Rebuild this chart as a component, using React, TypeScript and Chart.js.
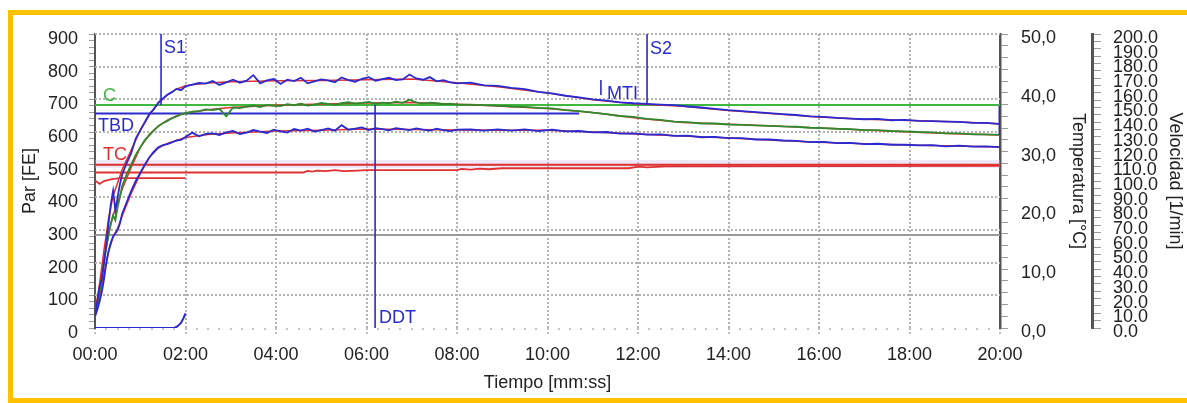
import { useEffect, useRef } from 'react';
import { Chart, registerables } from 'chart.js';

Chart.register(...registerables);

// ---------- data (time in minutes, torque in FE) ----------
const timeMin = [
  0, 0.05, 0.1, 0.15, 0.2, 0.25, 0.3, 0.35, 0.4, 0.45, 0.5, 0.55, 0.6, 0.7, 0.8, 0.9, 1.0, 1.1, 1.2, 1.3, 1.4, 1.5, 1.6, 1.7, 1.8, 1.9, 2.0,
  2.15, 2.3, 2.45, 2.6, 2.75, 2.9, 3.05, 3.2, 3.35, 3.5, 3.65, 3.8, 3.95, 4.1, 4.25, 4.4, 4.55, 4.7, 4.85, 5.0,
  5.15, 5.3, 5.45, 5.6, 5.75, 5.9, 6.05, 6.2, 6.35, 6.5, 6.65, 6.8, 6.95, 7.1, 7.25, 7.4, 7.55, 7.7, 7.85, 8.0,
  8.3, 8.6, 8.9, 9.2, 9.5, 9.8, 10.1, 10.4, 10.7, 11.0, 11.3, 11.6, 11.9, 12.2, 12.5, 12.8, 13.1, 13.4, 13.7, 14.0,
  14.3, 14.6, 14.9, 15.2, 15.5, 15.8, 16.1, 16.4, 16.7, 17.0, 17.3, 17.6, 17.9, 18.2, 18.5, 18.8, 19.1, 19.4, 19.7, 20.0,
];

const upperTorque = [
  40, 80, 125, 150, 200, 260, 320, 380, 420, 360, 400, 440, 470, 505, 535, 580, 605, 630, 655, 670, 690, 703, 714, 722, 732, 728, 740,
  745, 750, 748, 756, 744, 752, 760, 751, 757, 774, 749, 758, 762, 747, 760, 756, 766, 749, 755, 761,
  758, 752, 767, 759, 754, 763, 768, 757, 762, 766, 759, 761, 776, 764, 760, 768, 755, 759, 752, 749,
  751, 743, 741, 735, 731, 723, 718, 711, 706, 700, 696, 691, 688, 686, 684, 682, 678, 675, 671, 667,
  664, 661, 658, 655, 652, 648, 646, 643, 641, 639, 640, 636, 637, 634, 633, 632, 631, 628, 628, 624,
];

const middleTorque = [
  45, 70, 110, 150, 200, 245, 285, 320, 345, 330, 370, 400, 435, 470, 500, 530, 553, 575, 590, 605, 618, 627, 634, 642, 648, 654, 658,
  662, 664, 669, 667, 671, 648, 675, 673, 678, 681, 676, 683, 680, 679, 685, 682, 687, 681, 684, 689,
  686, 683, 688, 691, 687, 689, 692, 686, 690, 688, 693, 689, 699, 691, 687, 690, 688, 685, 687, 684,
  684, 682, 681, 678, 677, 674, 672, 667, 664, 659, 655, 649, 646, 640, 637, 632, 630, 626, 626, 623,
  622, 620, 619, 617, 616, 613, 612, 610, 609, 606, 606, 603, 602, 600, 599, 596, 596, 593, 593, 591,
];

const lowerTorque = [
  35, 55, 80, 110, 150, 200, 235, 262, 280, 290, 300, 320, 350, 385, 420, 450, 475, 500, 522, 540, 553, 560, 563, 568, 574, 576, 585,
  598, 587, 594, 596, 591, 599, 603, 594, 598, 606, 601, 597, 607, 602, 598, 609, 604, 610, 601, 606,
  611, 604, 621, 607, 610, 614, 606, 612, 609, 605, 612, 609, 606, 611, 607, 604, 610, 606, 603, 607,
  608, 604, 608, 604, 608, 603, 607, 602, 603, 599, 600, 595, 596, 592, 593, 588, 589, 584, 585, 581,
  581, 577, 577, 574, 573, 569, 570, 566, 567, 563, 564, 561, 561, 559, 560, 556, 558, 555, 556, 554,
];

// reference (red) curves lying under the measured ones
const refTime = [0, 0.1, 0.2, 0.3, 0.4, 0.5, 0.6, 0.8, 1.0, 1.2, 1.4, 1.6, 1.8, 2.0, 2.5, 3, 4, 5, 6, 7, 8, 9, 10, 11, 12, 13, 14, 15, 16, 17, 18, 19, 20];
const refUpper = [45, 135, 240, 335, 405, 445, 485, 545, 605, 652, 688, 714, 731, 742, 750, 754, 757, 758, 760, 762, 751, 737, 719, 699, 686, 679, 666, 656, 646, 639, 635, 631, 625];
const refMiddle = [45, 120, 210, 290, 345, 385, 425, 492, 552, 592, 618, 636, 649, 658, 668, 675, 682, 686, 689, 690, 685, 679, 672, 660, 642, 629, 624, 618, 612, 606, 600, 595, 591];
const refLower = [35, 95, 165, 235, 278, 305, 343, 412, 472, 522, 551, 565, 574, 583, 592, 597, 603, 605, 609, 608, 606, 605, 605, 600, 594, 588, 582, 575, 569, 564, 560, 557, 554];

// temperature traces (red)
const tempTime = [0, 4.6, 4.7, 4.8, 4.9, 5.1, 5.3, 5.5, 5.8, 6.0, 8.0, 8.1, 8.3, 8.5, 8.7, 9.0, 11.8, 12.0, 12.2, 12.6, 20];
const tempValues = [476, 476, 481, 479, 482, 480, 483, 480, 482, 483, 483, 487, 485, 488, 486, 489, 489, 494, 492, 495, 496];
const tempLowTime = [0, 0.1, 0.2, 0.35, 0.5, 0.6, 2.0];
const tempLowValues = [452, 441, 450, 455, 458, 459, 459];

// speed (1/min)
const speedTime = [0, 1.75, 1.82, 1.9, 1.96, 2.0];
const speedValues = [0, 0, 1, 3.5, 7, 10];

// levels
const levelC = 683;
const levelTBD = 657;
const tbdEndTime = 10.7;
const levelTC = 500;
const bandLow = 490;
const bandHigh = 514;
const grayLevel = 285;

// vertical markers: [time, from, to]
const markerNames = ['S1', 'S2', 'DDT', 'MTI', 'END'];
const markerTime = [1.46, 12.2, 6.19, 11.18, 20];
const markerFrom = [683, 683, 0, 713, 680];
const markerTo = [900, 900, 683, 759, 591];

// text annotations in data coordinates
const noteText = ['S1', 'S2', 'MTI', 'DDT', 'C', 'TBD', 'TC'];
const noteTime = [1.525, 12.265, 11.315, 6.276, 0.177, 0.066, 0.177];
const noteValue = [856, 854, 715, 29, 709, 617, 530];

// ---------- styles ----------
const BLUE = '#2a2ad0';
const GREEN_LINE = '#40b840';
const GREEN_CURVE = '#2f8a2f';
const RED = '#e03030';
const GRID = '#b4b4b4';
const AXIS = '#555555';
const TEXT = '#222222';
const FONT = "'Liberation Sans', Arial, Helvetica, sans-serif";
const noteColor: Record<string, string> = { S1: BLUE, S2: BLUE, MTI: BLUE, DDT: BLUE, TBD: BLUE, C: GREEN_LINE, TC: RED };

const pts = (xs: number[], ys: number[]) => xs.map((x, i) => ({ x, y: ys[i] }));
const line = (data: any[], color: string, width: number, extra: any = {}) => ({
  data,
  borderColor: color,
  backgroundColor: color,
  borderWidth: width,
  pointRadius: 0,
  pointHoverRadius: 0,
  fill: false,
  tension: 0,
  ...extra,
});

const near = (v: number, step: number) => Math.abs(v / step - Math.round(v / step)) < 1e-6;

// horizontal dotted grid lines at every labelled torque tick
const hGridPlugin = {
  id: 'hGrid',
  beforeDatasetsDraw(chart: any) {
    const { ctx, chartArea, scales } = chart;
    const ys = scales.y;
    ctx.save();
    ctx.strokeStyle = GRID;
    ctx.lineWidth = 2;
    ctx.setLineDash([2, 2]);
    ys.ticks.forEach((t: any) => {
      if (!near(t.value, 100) || t.value <= 0) return;
      const py = Math.round(ys.getPixelForValue(t.value));
      ctx.beginPath();
      ctx.moveTo(chartArea.left, py);
      ctx.lineTo(chartArea.right, py);
      ctx.stroke();
    });
    ctx.restore();
  },
};

const notesPlugin = {
  id: 'rheoNotes',
  afterDatasetsDraw(chart: any) {
    const { ctx, scales } = chart;
    const xs = scales.x;
    const ys = scales.y;
    ctx.save();
    ctx.font = `18px ${FONT}`;
    ctx.textBaseline = 'middle';
    ctx.textAlign = 'left';
    noteText.forEach((t, i) => {
      ctx.fillStyle = noteColor[t] || BLUE;
      ctx.fillText(t, xs.getPixelForValue(noteTime[i]), ys.getPixelForValue(noteValue[i]));
    });
    ctx.restore();
  },
};

export default function App() {
  const ref = useRef<HTMLCanvasElement | null>(null);

  useEffect(() => {
    if (!ref.current) return;

    const markerSets = markerNames.map((n, i) =>
      line(
        [
          { x: markerTime[i], y: markerFrom[i] },
          { x: markerTime[i], y: markerTo[i] },
        ],
        BLUE,
        n === 'END' ? 3 : 1.6,
      ),
    );

    const datasets: any[] = [
      ...markerSets,
      line(pts(timeMin, upperTorque), BLUE, 1.8),
      line(pts(timeMin, lowerTorque), BLUE, 1.8),
      line(pts(timeMin, middleTorque), GREEN_CURVE, 1.8),
      line(pts(refTime, refUpper), RED, 1.5),
      line(pts(refTime, refMiddle), RED, 1.5),
      line(pts(refTime, refLower), RED, 1.5),
      line(pts([0, 20], [levelC, levelC]), GREEN_LINE, 2),
      line(pts([0, tbdEndTime], [levelTBD, levelTBD]), BLUE, 2),
      line(pts([0, 20], [levelTC, levelTC]), RED, 2),
      line(pts(tempTime, tempValues), RED, 1.8),
      line(pts(tempLowTime, tempLowValues), RED, 1.8),
      line(pts([0, 20], [bandHigh, bandHigh]), 'rgba(0,0,0,0)', 0),
      line(pts([0, 20], [bandLow, bandLow]), 'rgba(0,0,0,0)', 0, {
        fill: '-1',
        backgroundColor: 'rgba(205,185,235,0.35)',
      }),
      line(pts([0, 20], [grayLevel, grayLevel]), '#9a9a9a', 2),
      line(pts(speedTime, speedValues), BLUE, 2, { yAxisID: 'yV' }),
    ];

    const tickFont = { family: FONT, size: 18 };
    const titleFont = { family: FONT, size: 18 };

    const chart = new Chart(ref.current, {
      type: 'line',
      data: { datasets },
      plugins: [hGridPlugin, notesPlugin],
      options: {
        animation: false,
        responsive: false,
        devicePixelRatio: 1,
        events: [],
        layout: { padding: { left: 0, top: 34, right: 0, bottom: 0 } },
        plugins: {
          legend: { display: false },
          tooltip: { enabled: false },
          title: { display: false },
        },
        scales: {
          x: {
            type: 'linear',
            position: 'bottom',
            min: 0,
            max: 20,
            afterFit: (s: any) => {
              s.height = 75;
            },
            ticks: {
              stepSize: 0.25,
              autoSkip: false,
              maxRotation: 0,
              minRotation: 0,
              padding: 8,
              color: TEXT,
              font: tickFont,
              callback: (value: any) => {
                const v = Number(value);
                if (!near(v, 2)) return '';
                return String(Math.round(v)).padStart(2, '0') + ':00';
              },
            },
            grid: {
              lineWidth: 2,
              tickLength: 8,
              tickWidth: 1.5,
              color: (c: any) => {
                const v = c.tick ? c.tick.value : 0;
                return near(v, 2) && v > 0 && v < 20 ? GRID : 'rgba(0,0,0,0)';
              },
              tickColor: (c: any) => {
                const v = c.tick ? c.tick.value : 0;
                return near(v, 2) ? '#aaaaaa' : '#b0b0b0';
              },
              tickBorderDash: (c: any) => {
                const v = c.tick ? c.tick.value : 0;
                return near(v, 2) ? [2, 2] : [2, 10];
              },
            },
            border: { display: false, dash: [2, 2] },
            title: {
              display: true,
              text: 'Tiempo [mm:ss]',
              color: TEXT,
              font: titleFont,
              padding: { top: 0, bottom: 9 },
            },
          },
          y: {
            type: 'linear',
            position: 'left',
            min: 0,
            max: 900,
            afterFit: (s: any) => {
              s.width = 95;
            },
            ticks: {
              stepSize: 20,
              autoSkip: false,
              padding: 11,
              labelOffset: 5,
              color: TEXT,
              font: tickFont,
              callback: (value: any) => {
                const v = Number(value);
                return near(v, 100) ? String(Math.round(v)) : '';
              },
            },
            grid: {
              lineWidth: 1,
              tickLength: 6,
              tickWidth: 1,
              tickColor: '#9a9a9a',
              color: 'rgba(0,0,0,0)',
            },
            border: { display: true, color: AXIS, width: 2 },
            title: {
              display: true,
              text: 'Par [FE]',
              color: TEXT,
              font: titleFont,
              padding: { top: 19, bottom: 0 },
            },
          },
          yT: {
            type: 'linear',
            position: 'right',
            weight: 0,
            min: 0,
            max: 50,
            afterFit: (s: any) => {
              s.width = 92;
            },
            ticks: {
              stepSize: 2,
              autoSkip: false,
              padding: 13,
              labelOffset: 4,
              color: TEXT,
              font: tickFont,
              callback: (value: any) => {
                const v = Number(value);
                return near(v, 10) ? v.toFixed(1).replace('.', ',') : '';
              },
            },
            grid: { drawOnChartArea: false, tickLength: 8, tickWidth: 1, color: '#9a9a9a' },
            border: { display: true, color: AXIS, width: 2.5 },
            title: {
              display: true,
              text: 'Temperatura [°C]',
              color: TEXT,
              font: titleFont,
              padding: { top: 3, bottom: 0 },
            },
          },
          yV: {
            type: 'linear',
            position: 'right',
            weight: 1,
            min: 0,
            max: 200,
            afterFit: (s: any) => {
              s.width = 95;
            },
            ticks: {
              stepSize: 5,
              autoSkip: false,
              padding: 12,
              labelOffset: 4,
              color: TEXT,
              font: tickFont,
              callback: (value: any) => {
                const v = Number(value);
                return near(v, 10) ? v.toFixed(1) : '';
              },
            },
            grid: { drawOnChartArea: false, tickLength: 9, tickWidth: 1, color: '#9a9a9a' },
            border: { display: true, color: AXIS, width: 3 },
            title: {
              display: true,
              text: 'Velocidad [1/min]',
              color: TEXT,
              font: titleFont,
              padding: { top: 1, bottom: 0 },
            },
          },
        },
      } as any,
    });

    return () => chart.destroy();
  }, []);

  return (
    <div>
      <div
        style={{
          position: 'absolute',
          left: 8,
          top: 10,
          width: 1179,
          height: 393,
          boxSizing: 'border-box',
          borderTop: '5px solid #FFC000',
          borderLeft: '5px solid #FFC000',
          borderBottom: '5px solid #FFC000',
        }}
      />
      <div style={{ position: 'absolute', left: 0, top: 0, width: 1187, height: 403 }}>
        <canvas ref={ref} width={1187} height={403} style={{ display: 'block', width: 1187, height: 403 }} />
      </div>
    </div>
  );
}
